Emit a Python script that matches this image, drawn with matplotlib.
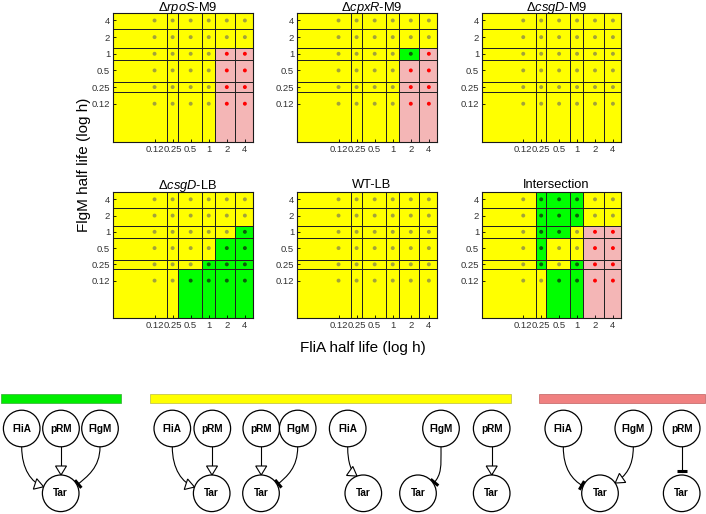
import numpy as np
import matplotlib.pyplot as plt
from matplotlib.colors import ListedColormap
from matplotlib.path import Path
from matplotlib.patches import PathPatch, Circle, Rectangle, Polygon

plt.rcParams['font.family'] = ['Liberation Sans', 'DejaVu Sans']
plt.rcParams['mathtext.fontset'] = 'custom'
plt.rcParams['mathtext.rm'] = 'Liberation Sans'
plt.rcParams['mathtext.it'] = 'Liberation Sans:italic'

# half lives (h) on both axes, drawn on a log2 scale
half_lives = [0.125, 0.25, 0.5, 1, 2, 4]
tick_labels = ['0.12', '0.25', '0.5', '1', '2', '4']
# borders between the cells, in log2(h)
bin_edges = [-5.3, -2.3, -1.72, -0.4, 0.33, 1.48, 2.45]

titles = [r'Δ$\mathit{rpoS}$-M9', r'Δ$\mathit{cpxR}$-M9', r'Δ$\mathit{csgD}$-M9',
          r'Δ$\mathit{csgD}$-LB', 'WT-LB', 'Intersection']

# Y = yellow, G = green, P = pink
# rows: FlgM 4 h (top) down to 0.12 h, columns: FliA 0.12 h .. 4 h
rpoS_m9 = ['YYYYYY', 'YYYYYY', 'YYYYPP', 'YYYYPP', 'YYYYPP', 'YYYYPP']
cpxR_m9 = ['YYYYYY', 'YYYYYY', 'YYYYGP', 'YYYYPP', 'YYYYPP', 'YYYYPP']
csgD_m9 = ['YYYYYY'] * 6
csgD_lb = ['YYYYYY', 'YYYYYY', 'YYYYYG', 'YYYYGG', 'YYYGGG', 'YYGGGG']
wt_lb = ['YYYYYY'] * 6
intersection = ['YGGGYY', 'YGGGYY', 'YGGYPP', 'YGYYPP', 'YGYGPP', 'YYGGPP']
grids = [rpoS_m9, cpxR_m9, csgD_m9, csgD_lb, wt_lb, intersection]

cell_colors = ['#ffff00', '#00ff00', '#f4b6b6']
dot_colors = np.array(['#a3a33a', '#0b5e0b', '#ff0000'])

fig = plt.figure(figsize=(7.06, 5.14), dpi=100)
W, H = 706, 514

# panel boxes in pixels: left, top, right, bottom
cols = [(113, 253), (297, 437), (482, 621)]
rows = [(13, 142), (192, 318)]
title_base = [11.5, 188.5]

pos = np.log2(half_lives)
X, Y = np.meshgrid(pos, pos)
cmap = ListedColormap(cell_colors)

for i, grid in enumerate(grids):
    x0, x1 = cols[i % 3]
    y0, y1 = rows[i // 3]
    ax = fig.add_axes([x0 / W, 1 - y1 / H, (x1 - x0) / W, (y1 - y0) / H])
    codes = np.array([['YGP'.index(c) for c in r] for r in grid[::-1]])
    ax.pcolormesh(bin_edges, bin_edges, codes, cmap=cmap, vmin=-0.5, vmax=2.5,
                  edgecolors='#222222', linewidth=0.55)
    ax.scatter(X.ravel(), Y.ravel(), s=8, c=dot_colors[codes.ravel()],
               linewidths=0, zorder=3)
    ax.set_xlim(bin_edges[0], bin_edges[-1])
    ax.set_ylim(bin_edges[0], bin_edges[-1])
    ax.set_xticks(pos)
    ax.set_xticklabels(tick_labels)
    ax.set_yticks(pos)
    ax.set_yticklabels(tick_labels)
    ax.tick_params(direction='in', length=2.5, width=0.6, pad=2,
                   labelsize=6.8, labelcolor='#333333')
    for s in ax.spines.values():
        s.set_linewidth(0.8)
        s.set_color('#1a1a1a')
    fig.text((x0 + x1) / 2 / W + 5 / W, 1 - title_base[i // 3] / H, titles[i],
             fontsize=9.3, ha='center', va='baseline')

fig.text(363 / W, 1 - 348 / H, 'FliA half life (log h)', fontsize=11,
         ha='center', va='center')
fig.text(84 / W, 1 - 165 / H, 'FlgM half life (log h)', fontsize=11,
         ha='center', va='center', rotation=90)

# ---- network motifs below the panels ----
axd = fig.add_axes([0, 0, 1, 1], zorder=-1)
axd.set_xlim(0, W)
axd.set_ylim(H, 0)
axd.axis('off')

axd.add_patch(Rectangle((1, 394), 120, 9, fc='#00ee00', ec='#33aa33', lw=0.5))
axd.add_patch(Rectangle((150, 394), 361, 9, fc='#ffff00', ec='#bbbb44', lw=0.5))
axd.add_patch(Rectangle((539, 394), 166, 9, fc='#f08080', ec='#c06060', lw=0.5))

R = 18.3
YS, YT = 428.5, 493.3


def node(x, y, name):
    axd.add_patch(Circle((x, y), R, fc='white', ec='black', lw=0.9, zorder=4))
    axd.text(x, y, name, ha='center', va='center', fontsize=7.2,
             fontweight='bold', zorder=5)


def head(ex, ey, tx, ty, kind):
    # tx, ty: unit direction of travel at the end point
    nx, ny = -ty, tx
    if kind == 'act':
        L, w = 9, 5.5
        bx, by = ex - L * tx, ey - L * ty
        tri = [(ex, ey), (bx + w * nx, by + w * ny), (bx - w * nx, by - w * ny)]
        axd.add_patch(Polygon(tri, closed=True, fc='white', ec='black',
                              lw=0.8, zorder=3))
    else:
        cx, cy = ex - 1.5 * tx, ey - 1.5 * ty
        axd.plot([cx - 5 * nx, cx + 5 * nx], [cy - 5 * ny, cy + 5 * ny],
                 color='black', lw=2.2, solid_capstyle='butt', zorder=3)


def straight(x, kind):
    y1 = YS + R
    y2 = YT - R if kind == 'act' else YT - R - 3
    axd.plot([x, x], [y1, y2], color='black', lw=0.8, zorder=2)
    head(x, y2, 0, 1, kind)


def curved(sx, tx, ang, phi, kind, pull=13):
    # ang: where the edge meets the target circle, phi: end direction (deg, y down)
    a = np.radians(ang)
    ex, ey = tx + R * np.cos(a), YT - R * np.sin(a)
    t = np.array([np.cos(np.radians(phi)), np.sin(np.radians(phi))])
    S = (sx, YS + R)
    C1 = (sx, S[1] + 0.55 * (ey - S[1]))
    C2 = (ex - pull * t[0], ey - pull * t[1])
    path = Path([S, C1, C2, (ex, ey)],
                [Path.MOVETO, Path.CURVE4, Path.CURVE4, Path.CURVE4])
    axd.add_patch(PathPatch(path, fc='none', ec='black', lw=0.8, zorder=2))
    head(ex, ey, t[0], t[1], kind)


# green: FliA, pRM, FlgM -> Tar
node(21.7, YS, 'FliA'); node(61, YS, 'pRM'); node(100, YS, 'FlgM'); node(60.7, YT, 'Tar')
curved(21.7, 60.7, 159, 18, 'act')
straight(61, 'act')
curved(100, 60.7, 27, 140, 'inh')

# yellow motifs
node(172.3, YS, 'FliA'); node(212.3, YS, 'pRM'); node(211.7, YT, 'Tar')
curved(172.3, 211.7, 160, 18, 'act')
straight(212, 'act')

node(261.3, YS, 'pRM'); node(297.7, YS, 'FlgM'); node(261, YT, 'Tar')
straight(261.2, 'act')
curved(297.7, 261, 28, 140, 'inh')

node(347.7, YS, 'FliA'); node(363.3, YT, 'Tar')
curved(347.7, 363.3, 110, 35, 'act', pull=7)

node(441, YS, 'FlgM'); node(418, YT, 'Tar')
curved(441, 418, 32, 130, 'inh')

node(491.7, YS, 'pRM'); node(491.7, YT, 'Tar')
straight(491.7, 'act')

# pink motifs
node(563.3, YS, 'FliA'); node(633.3, YS, 'FlgM'); node(600, YT, 'Tar')
curved(563.3, 600, 157, 30, 'inh')
curved(633.3, 600, 34, 145, 'act')

node(681.7, YS, 'pRM'); node(681.7, YT, 'Tar')
straight(681.7, 'inh')

fig.savefig('out.png', dpi=100)
